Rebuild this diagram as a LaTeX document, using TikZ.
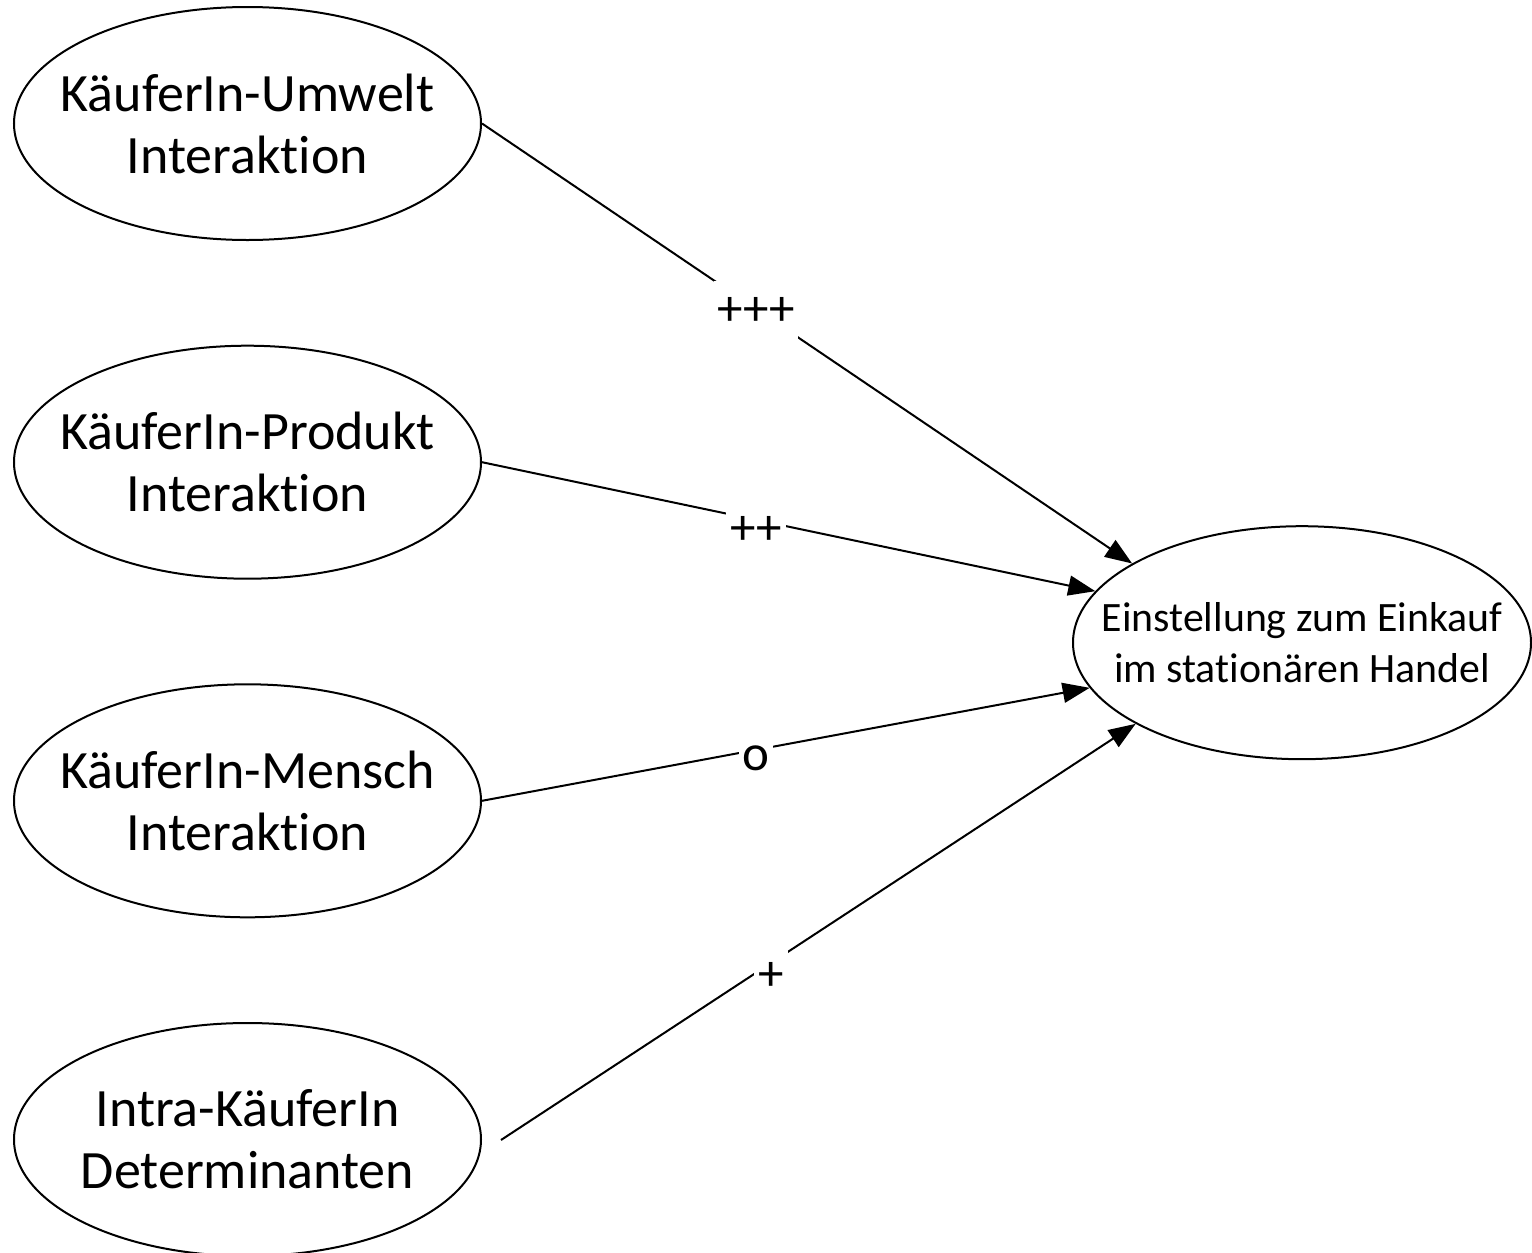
\documentclass[tikz,border=0pt]{standalone}
\usepackage{fontspec}
\setmainfont{Carlito}[Ligatures=NoCommon]
\usetikzlibrary{arrows.meta,shapes.geometric}
\tikzset{
  factor/.style={ellipse,draw,line width=1pt,inner sep=-40pt,
    minimum width=233.5pt,minimum height=116.5pt,align=center,
    font=\fontsize{27}{31}\selectfont},
  outcome/.style={ellipse,draw,line width=1pt,inner sep=-40pt,
    minimum width=229pt,minimum height=116.5pt,align=center,
    font=\fontsize{20.9}{25.5}\selectfont},
  conn/.style={line width=1pt,-{Triangle[length=13.5pt,width=10pt]}},
  lbl/.style={fill=white,inner xsep=2pt,inner ysep=3pt,
    text height=19pt,text depth=6pt,
    font=\fontsize{25.5}{30}\selectfont}
}
\begin{document}
\begin{tikzpicture}[x=0.5pt,y=-0.5pt]
\useasboundingbox (0,0) rectangle (1532,1253);
\clip (0,0) rectangle (1532,1253);
\node[factor] (a) at (247.5,123.5) {KäuferIn-Umwelt\\Interaktion};
\node[factor] (b) at (247.5,462.2) {KäuferIn-Produkt\\Interaktion};
\node[factor] (c) at (247.5,800.8) {KäuferIn-Mensch\\Interaktion};
\node[factor] (d) at (247.5,1139.5) {Intra-KäuferIn\\Determinanten};
\node[outcome] (t) at (1302,642.7) {Einstellung zum Einkauf\\im stationären Handel};
\coordinate (d0) at (501,1140);
\draw[conn] (a.east) -- (t.155);
\draw[conn] (b.east) -- (t.166);
\draw[conn] (c.east) -- (t.192);
\draw[conn] (d0) -- (t.206);
\node[lbl] (l1) at (756,312) {+++};
\node[lbl] (l2) at (756,531) {++};
\node[lbl] (l3) at (756,757) {o};
\node[lbl] (l4) at (771,977) {+};
\end{tikzpicture}
\end{document}
